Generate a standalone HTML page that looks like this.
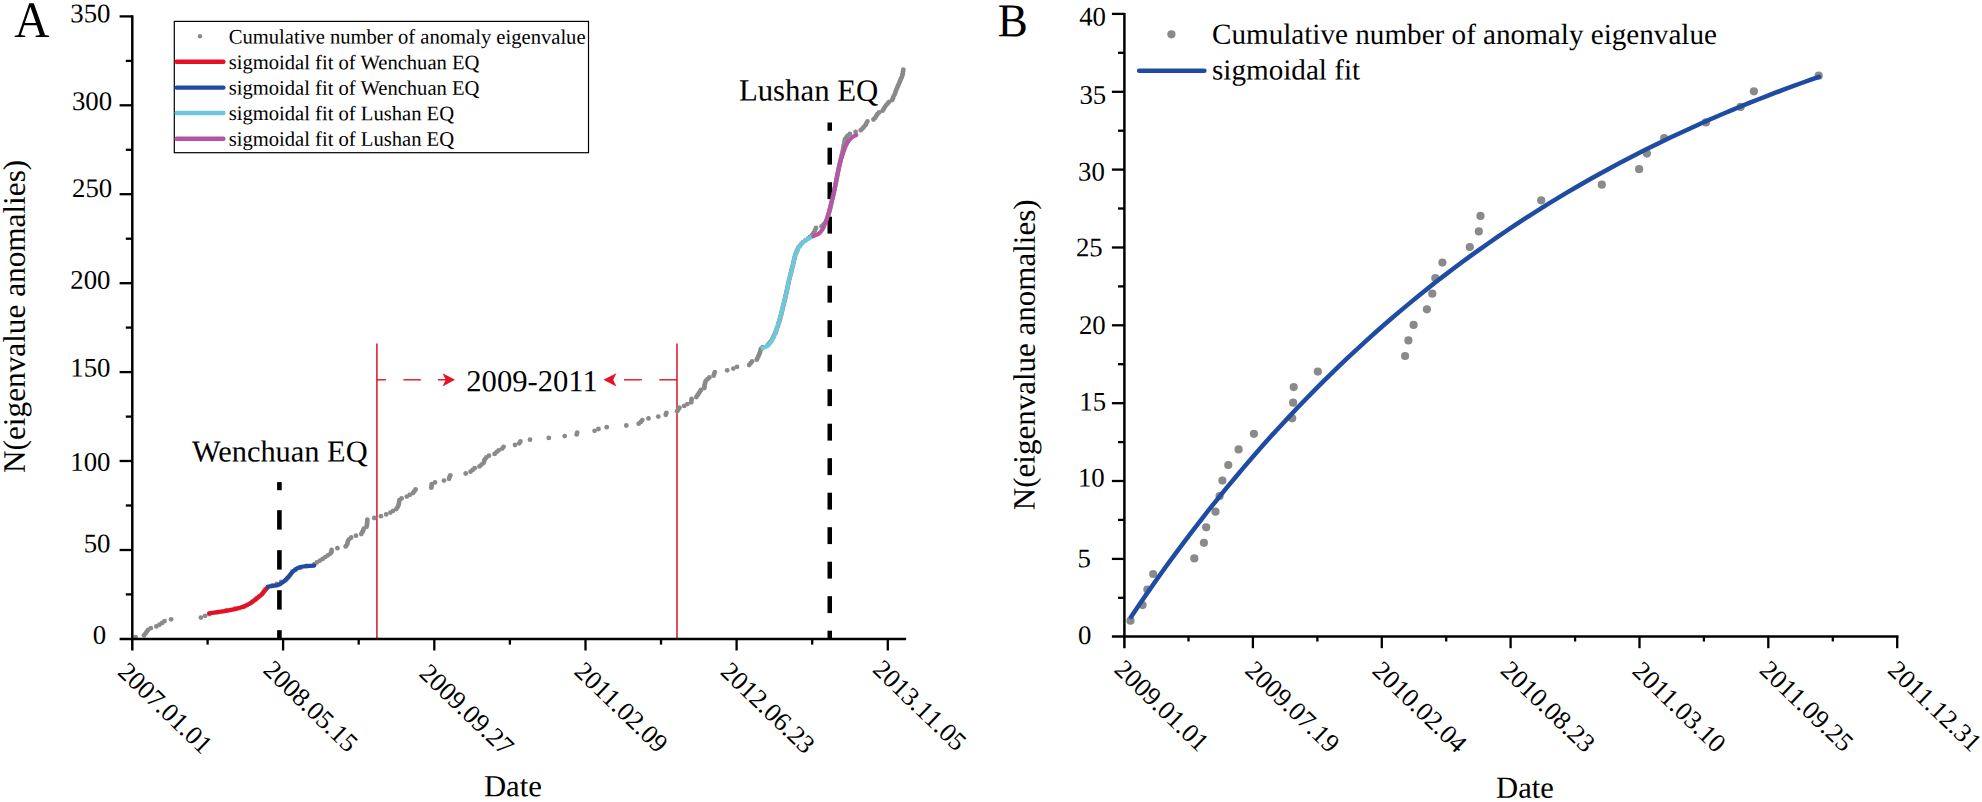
<!DOCTYPE html>
<html lang="en"><head><meta charset="utf-8"><title>Figure</title>
<style>html,body{margin:0;padding:0;background:#fff}svg{display:block}</style></head>
<body>
<svg width="1982" height="802" viewBox="0 0 1982 802" font-family="'Liberation Serif', serif" fill="#000">
<rect width="1982" height="802" fill="#fff"/>
<g id="panelA">
<g stroke="#de3041" stroke-width="1.7" fill="none">
<line x1="376.9" y1="343.5" x2="376.9" y2="638.9"/>
<line x1="677" y1="343.5" x2="677" y2="638.9"/>
</g>
<g stroke="#e60f24" stroke-width="1.4" fill="none">
<line x1="377" y1="379.8" x2="385.9" y2="379.8"/>
<line x1="403.4" y1="379.8" x2="420.8" y2="379.8"/>
<line x1="437.8" y1="379.8" x2="448" y2="379.8"/>
<line x1="624" y1="379.8" x2="641.8" y2="379.8"/>
<line x1="659.3" y1="379.8" x2="677" y2="379.8"/>
</g>
<path d="M455,379.8 L442.5,373.3 L445.8,379.8 L442.5,386.6 Z" fill="#e60f24"/>
<path d="M603.5,379.8 L616.4,373.3 L613.2,379.8 L616.4,386.6 Z" fill="#e60f24"/>
<g fill="#8a8a8a">
<circle cx="135.7" cy="637.1" r="2.4"/>
<circle cx="144.0" cy="635.3" r="2.4"/>
<circle cx="145.5" cy="633.6" r="2.4"/>
<circle cx="146.7" cy="631.8" r="2.4"/>
<circle cx="148.0" cy="630.0" r="2.4"/>
<circle cx="150.8" cy="628.2" r="2.4"/>
<circle cx="156.4" cy="626.4" r="2.4"/>
<circle cx="159.5" cy="624.7" r="2.4"/>
<circle cx="162.2" cy="622.9" r="2.4"/>
<circle cx="164.6" cy="621.1" r="2.4"/>
<circle cx="171.1" cy="619.3" r="2.4"/>
<circle cx="200.9" cy="617.6" r="2.4"/>
<circle cx="205.1" cy="615.8" r="2.4"/>
<circle cx="209.2" cy="614.0" r="2.4"/>
<circle cx="217.5" cy="612.2" r="2.4"/>
<circle cx="226.2" cy="610.4" r="2.4"/>
<circle cx="234.9" cy="608.7" r="2.4"/>
<circle cx="243.7" cy="606.9" r="2.4"/>
<circle cx="247.1" cy="605.1" r="2.4"/>
<circle cx="250.6" cy="603.3" r="2.4"/>
<circle cx="252.6" cy="601.5" r="2.4"/>
<circle cx="254.7" cy="599.8" r="2.4"/>
<circle cx="256.7" cy="598.0" r="2.4"/>
<circle cx="259.4" cy="596.2" r="2.4"/>
<circle cx="262.0" cy="594.4" r="2.4"/>
<circle cx="263.2" cy="592.7" r="2.4"/>
<circle cx="264.3" cy="590.9" r="2.4"/>
<circle cx="265.5" cy="589.1" r="2.4"/>
<circle cx="267.7" cy="587.3" r="2.4"/>
<circle cx="272.5" cy="585.5" r="2.4"/>
<circle cx="276.8" cy="583.8" r="2.4"/>
<circle cx="281.2" cy="582.0" r="2.4"/>
<circle cx="285.6" cy="580.2" r="2.4"/>
<circle cx="287.4" cy="578.4" r="2.4"/>
<circle cx="289.1" cy="576.6" r="2.4"/>
<circle cx="290.2" cy="574.9" r="2.4"/>
<circle cx="291.4" cy="573.1" r="2.4"/>
<circle cx="292.5" cy="571.3" r="2.4"/>
<circle cx="296.0" cy="569.5" r="2.4"/>
<circle cx="300.4" cy="567.8" r="2.4"/>
<circle cx="306.5" cy="566.0" r="2.4"/>
<circle cx="314.4" cy="564.2" r="2.4"/>
<circle cx="316.8" cy="562.4" r="2.4"/>
<circle cx="319.9" cy="560.6" r="2.4"/>
<circle cx="322.6" cy="558.9" r="2.4"/>
<circle cx="325.2" cy="557.1" r="2.4"/>
<circle cx="327.9" cy="555.3" r="2.4"/>
<circle cx="330.5" cy="553.5" r="2.4"/>
<circle cx="331.6" cy="551.7" r="2.4"/>
<circle cx="331.6" cy="550.0" r="2.4"/>
<circle cx="337.4" cy="548.2" r="2.4"/>
<circle cx="345.7" cy="546.4" r="2.4"/>
<circle cx="347.0" cy="544.6" r="2.4"/>
<circle cx="347.5" cy="542.9" r="2.4"/>
<circle cx="348.0" cy="541.1" r="2.4"/>
<circle cx="349.1" cy="539.3" r="2.4"/>
<circle cx="351.2" cy="537.5" r="2.4"/>
<circle cx="356.0" cy="535.7" r="2.4"/>
<circle cx="361.3" cy="534.0" r="2.4"/>
<circle cx="362.3" cy="532.2" r="2.4"/>
<circle cx="363.1" cy="530.4" r="2.4"/>
<circle cx="363.9" cy="528.6" r="2.4"/>
<circle cx="366.6" cy="526.8" r="2.4"/>
<circle cx="366.9" cy="525.1" r="2.4"/>
<circle cx="367.1" cy="523.3" r="2.4"/>
<circle cx="367.2" cy="521.5" r="2.4"/>
<circle cx="367.3" cy="519.7" r="2.4"/>
<circle cx="374.3" cy="518.0" r="2.4"/>
<circle cx="380.9" cy="516.2" r="2.4"/>
<circle cx="386.2" cy="514.4" r="2.4"/>
<circle cx="390.4" cy="512.6" r="2.4"/>
<circle cx="393.1" cy="510.8" r="2.4"/>
<circle cx="396.3" cy="509.1" r="2.4"/>
<circle cx="397.4" cy="507.3" r="2.4"/>
<circle cx="398.4" cy="505.5" r="2.4"/>
<circle cx="398.9" cy="503.7" r="2.4"/>
<circle cx="399.1" cy="501.9" r="2.4"/>
<circle cx="399.4" cy="500.2" r="2.4"/>
<circle cx="401.6" cy="498.4" r="2.4"/>
<circle cx="406.8" cy="496.6" r="2.4"/>
<circle cx="409.8" cy="494.8" r="2.4"/>
<circle cx="413.0" cy="493.1" r="2.4"/>
<circle cx="414.3" cy="491.3" r="2.4"/>
<circle cx="415.6" cy="489.5" r="2.4"/>
<circle cx="431.3" cy="487.7" r="2.4"/>
<circle cx="431.6" cy="485.9" r="2.4"/>
<circle cx="431.8" cy="484.2" r="2.4"/>
<circle cx="435.0" cy="482.4" r="2.4"/>
<circle cx="444.0" cy="480.6" r="2.4"/>
<circle cx="449.0" cy="478.8" r="2.4"/>
<circle cx="449.6" cy="477.0" r="2.4"/>
<circle cx="450.3" cy="475.3" r="2.4"/>
<circle cx="465.7" cy="473.5" r="2.4"/>
<circle cx="470.5" cy="471.7" r="2.4"/>
<circle cx="472.6" cy="469.9" r="2.4"/>
<circle cx="474.7" cy="468.2" r="2.4"/>
<circle cx="479.5" cy="466.4" r="2.4"/>
<circle cx="481.6" cy="464.6" r="2.4"/>
<circle cx="483.7" cy="462.8" r="2.4"/>
<circle cx="484.2" cy="461.0" r="2.4"/>
<circle cx="484.8" cy="459.3" r="2.4"/>
<circle cx="486.4" cy="457.5" r="2.4"/>
<circle cx="489.0" cy="455.7" r="2.4"/>
<circle cx="494.6" cy="453.9" r="2.4"/>
<circle cx="496.6" cy="452.1" r="2.4"/>
<circle cx="498.6" cy="450.4" r="2.4"/>
<circle cx="502.3" cy="448.6" r="2.4"/>
<circle cx="503.6" cy="446.8" r="2.4"/>
<circle cx="515.0" cy="445.0" r="2.4"/>
<circle cx="519.2" cy="443.3" r="2.4"/>
<circle cx="520.4" cy="441.5" r="2.4"/>
<circle cx="530.0" cy="439.7" r="2.4"/>
<circle cx="548.8" cy="437.9" r="2.4"/>
<circle cx="564.7" cy="436.1" r="2.4"/>
<circle cx="576.7" cy="434.4" r="2.4"/>
<circle cx="577.2" cy="432.6" r="2.4"/>
<circle cx="594.6" cy="430.8" r="2.4"/>
<circle cx="598.5" cy="429.0" r="2.4"/>
<circle cx="606.7" cy="427.2" r="2.4"/>
<circle cx="626.3" cy="425.5" r="2.4"/>
<circle cx="638.7" cy="423.7" r="2.4"/>
<circle cx="640.9" cy="421.9" r="2.4"/>
<circle cx="642.3" cy="420.1" r="2.4"/>
<circle cx="648.5" cy="418.4" r="2.4"/>
<circle cx="658.3" cy="416.6" r="2.4"/>
<circle cx="665.7" cy="414.8" r="2.4"/>
<circle cx="666.4" cy="413.0" r="2.4"/>
<circle cx="677.1" cy="411.2" r="2.4"/>
<circle cx="678.3" cy="409.5" r="2.4"/>
<circle cx="679.5" cy="407.7" r="2.4"/>
<circle cx="684.2" cy="405.9" r="2.4"/>
<circle cx="687.4" cy="404.1" r="2.4"/>
<circle cx="691.2" cy="402.3" r="2.4"/>
<circle cx="691.4" cy="400.6" r="2.4"/>
<circle cx="691.6" cy="398.8" r="2.4"/>
<circle cx="696.3" cy="397.0" r="2.4"/>
<circle cx="697.5" cy="395.2" r="2.4"/>
<circle cx="698.7" cy="393.5" r="2.4"/>
<circle cx="699.9" cy="391.7" r="2.4"/>
<circle cx="701.0" cy="389.9" r="2.4"/>
<circle cx="704.3" cy="388.1" r="2.4"/>
<circle cx="704.5" cy="386.3" r="2.4"/>
<circle cx="704.7" cy="384.6" r="2.4"/>
<circle cx="705.2" cy="382.8" r="2.4"/>
<circle cx="705.7" cy="381.0" r="2.4"/>
<circle cx="707.5" cy="379.2" r="2.4"/>
<circle cx="709.4" cy="377.4" r="2.4"/>
<circle cx="713.6" cy="375.7" r="2.4"/>
<circle cx="714.2" cy="373.9" r="2.4"/>
<circle cx="714.8" cy="372.1" r="2.4"/>
<circle cx="727.2" cy="370.3" r="2.4"/>
<circle cx="733.3" cy="368.6" r="2.4"/>
<circle cx="737.0" cy="366.8" r="2.4"/>
<circle cx="749.2" cy="365.0" r="2.4"/>
<circle cx="750.6" cy="363.2" r="2.4"/>
<circle cx="752.0" cy="361.4" r="2.4"/>
<circle cx="756.7" cy="359.7" r="2.4"/>
<circle cx="757.6" cy="357.9" r="2.4"/>
<circle cx="758.5" cy="356.1" r="2.4"/>
<circle cx="759.2" cy="354.3" r="2.4"/>
<circle cx="759.9" cy="352.5" r="2.4"/>
<circle cx="760.4" cy="350.8" r="2.4"/>
<circle cx="760.9" cy="349.0" r="2.4"/>
<circle cx="762.7" cy="347.2" r="2.4"/>
<circle cx="767.5" cy="345.4" r="2.4"/>
<circle cx="768.9" cy="343.7" r="2.4"/>
<circle cx="770.4" cy="341.9" r="2.4"/>
<circle cx="771.8" cy="340.1" r="2.4"/>
<circle cx="772.7" cy="338.3" r="2.4"/>
<circle cx="773.5" cy="336.5" r="2.4"/>
<circle cx="774.4" cy="334.8" r="2.4"/>
<circle cx="775.3" cy="333.0" r="2.4"/>
<circle cx="775.9" cy="331.2" r="2.4"/>
<circle cx="776.6" cy="329.4" r="2.4"/>
<circle cx="777.2" cy="327.6" r="2.4"/>
<circle cx="777.9" cy="325.9" r="2.4"/>
<circle cx="778.4" cy="324.1" r="2.4"/>
<circle cx="778.9" cy="322.3" r="2.4"/>
<circle cx="779.5" cy="320.5" r="2.4"/>
<circle cx="780.0" cy="318.8" r="2.4"/>
<circle cx="780.5" cy="317.0" r="2.4"/>
<circle cx="780.9" cy="315.2" r="2.4"/>
<circle cx="781.4" cy="313.4" r="2.4"/>
<circle cx="781.8" cy="311.6" r="2.4"/>
<circle cx="782.3" cy="309.9" r="2.4"/>
<circle cx="782.7" cy="308.1" r="2.4"/>
<circle cx="783.1" cy="306.3" r="2.4"/>
<circle cx="783.6" cy="304.5" r="2.4"/>
<circle cx="784.0" cy="302.7" r="2.4"/>
<circle cx="784.5" cy="301.0" r="2.4"/>
<circle cx="784.9" cy="299.2" r="2.4"/>
<circle cx="785.3" cy="297.4" r="2.4"/>
<circle cx="785.7" cy="295.6" r="2.4"/>
<circle cx="786.1" cy="293.9" r="2.4"/>
<circle cx="786.5" cy="292.1" r="2.4"/>
<circle cx="786.9" cy="290.3" r="2.4"/>
<circle cx="787.3" cy="288.5" r="2.4"/>
<circle cx="787.7" cy="286.7" r="2.4"/>
<circle cx="788.0" cy="285.0" r="2.4"/>
<circle cx="788.4" cy="283.2" r="2.4"/>
<circle cx="788.8" cy="281.4" r="2.4"/>
<circle cx="789.2" cy="279.6" r="2.4"/>
<circle cx="789.7" cy="277.8" r="2.4"/>
<circle cx="790.1" cy="276.1" r="2.4"/>
<circle cx="790.6" cy="274.3" r="2.4"/>
<circle cx="791.0" cy="272.5" r="2.4"/>
<circle cx="791.4" cy="270.7" r="2.4"/>
<circle cx="791.9" cy="269.0" r="2.4"/>
<circle cx="792.3" cy="267.2" r="2.4"/>
<circle cx="792.8" cy="265.4" r="2.4"/>
<circle cx="793.2" cy="263.6" r="2.4"/>
<circle cx="793.6" cy="261.8" r="2.4"/>
<circle cx="794.0" cy="260.1" r="2.4"/>
<circle cx="794.5" cy="258.3" r="2.4"/>
<circle cx="794.9" cy="256.5" r="2.4"/>
<circle cx="795.3" cy="254.7" r="2.4"/>
<circle cx="796.1" cy="252.9" r="2.4"/>
<circle cx="796.8" cy="251.2" r="2.4"/>
<circle cx="797.6" cy="249.4" r="2.4"/>
<circle cx="798.4" cy="247.6" r="2.4"/>
<circle cx="799.9" cy="245.8" r="2.4"/>
<circle cx="801.3" cy="244.1" r="2.4"/>
<circle cx="802.8" cy="242.3" r="2.4"/>
<circle cx="805.4" cy="240.5" r="2.4"/>
<circle cx="808.0" cy="238.7" r="2.4"/>
<circle cx="810.0" cy="236.9" r="2.4"/>
<circle cx="812.0" cy="235.2" r="2.4"/>
<circle cx="813.2" cy="233.4" r="2.4"/>
<circle cx="814.5" cy="231.6" r="2.4"/>
<circle cx="815.2" cy="229.8" r="2.4"/>
<circle cx="816.0" cy="228.0" r="2.4"/>
<circle cx="821.5" cy="226.3" r="2.4"/>
<circle cx="823.5" cy="224.5" r="2.4"/>
<circle cx="825.4" cy="222.7" r="2.4"/>
<circle cx="826.5" cy="220.9" r="2.4"/>
<circle cx="827.1" cy="219.2" r="2.4"/>
<circle cx="827.6" cy="217.4" r="2.4"/>
<circle cx="828.2" cy="215.6" r="2.4"/>
<circle cx="828.7" cy="213.8" r="2.4"/>
<circle cx="829.3" cy="212.0" r="2.4"/>
<circle cx="829.7" cy="210.3" r="2.4"/>
<circle cx="830.1" cy="208.5" r="2.4"/>
<circle cx="830.6" cy="206.7" r="2.4"/>
<circle cx="831.0" cy="204.9" r="2.4"/>
<circle cx="831.4" cy="203.1" r="2.4"/>
<circle cx="831.8" cy="201.4" r="2.4"/>
<circle cx="832.2" cy="199.6" r="2.4"/>
<circle cx="832.7" cy="197.8" r="2.4"/>
<circle cx="833.1" cy="196.0" r="2.4"/>
<circle cx="833.5" cy="194.2" r="2.4"/>
<circle cx="833.9" cy="192.5" r="2.4"/>
<circle cx="834.3" cy="190.7" r="2.4"/>
<circle cx="834.6" cy="188.9" r="2.4"/>
<circle cx="835.0" cy="187.1" r="2.4"/>
<circle cx="835.4" cy="185.4" r="2.4"/>
<circle cx="835.7" cy="183.6" r="2.4"/>
<circle cx="836.1" cy="181.8" r="2.4"/>
<circle cx="836.4" cy="180.0" r="2.4"/>
<circle cx="836.8" cy="178.2" r="2.4"/>
<circle cx="837.1" cy="176.5" r="2.4"/>
<circle cx="837.5" cy="174.7" r="2.4"/>
<circle cx="837.8" cy="172.9" r="2.4"/>
<circle cx="838.2" cy="171.1" r="2.4"/>
<circle cx="838.5" cy="169.3" r="2.4"/>
<circle cx="838.9" cy="167.6" r="2.4"/>
<circle cx="839.3" cy="165.8" r="2.4"/>
<circle cx="839.7" cy="164.0" r="2.4"/>
<circle cx="840.2" cy="162.2" r="2.4"/>
<circle cx="840.6" cy="160.5" r="2.4"/>
<circle cx="841.0" cy="158.7" r="2.4"/>
<circle cx="841.4" cy="156.9" r="2.4"/>
<circle cx="841.8" cy="155.1" r="2.4"/>
<circle cx="842.2" cy="153.3" r="2.4"/>
<circle cx="842.6" cy="151.6" r="2.4"/>
<circle cx="843.0" cy="149.8" r="2.4"/>
<circle cx="843.3" cy="148.0" r="2.4"/>
<circle cx="843.6" cy="146.2" r="2.4"/>
<circle cx="844.0" cy="144.4" r="2.4"/>
<circle cx="844.4" cy="142.7" r="2.4"/>
<circle cx="844.7" cy="140.9" r="2.4"/>
<circle cx="845.1" cy="139.1" r="2.4"/>
<circle cx="846.4" cy="137.3" r="2.4"/>
<circle cx="847.7" cy="135.6" r="2.4"/>
<circle cx="849.9" cy="133.8" r="2.4"/>
<circle cx="855.6" cy="132.0" r="2.4"/>
<circle cx="860.8" cy="130.2" r="2.4"/>
<circle cx="862.6" cy="128.4" r="2.4"/>
<circle cx="864.1" cy="126.7" r="2.4"/>
<circle cx="865.6" cy="124.9" r="2.4"/>
<circle cx="866.5" cy="123.1" r="2.4"/>
<circle cx="867.4" cy="121.3" r="2.4"/>
<circle cx="873.5" cy="119.5" r="2.4"/>
<circle cx="875.2" cy="117.8" r="2.4"/>
<circle cx="876.3" cy="116.0" r="2.4"/>
<circle cx="877.4" cy="114.2" r="2.4"/>
<circle cx="879.1" cy="112.4" r="2.4"/>
<circle cx="882.6" cy="110.7" r="2.4"/>
<circle cx="883.7" cy="108.9" r="2.4"/>
<circle cx="884.8" cy="107.1" r="2.4"/>
<circle cx="886.1" cy="105.3" r="2.4"/>
<circle cx="887.7" cy="103.5" r="2.4"/>
<circle cx="889.2" cy="101.8" r="2.4"/>
<circle cx="892.2" cy="100.0" r="2.4"/>
<circle cx="892.9" cy="98.2" r="2.4"/>
<circle cx="893.5" cy="96.4" r="2.4"/>
<circle cx="894.6" cy="94.6" r="2.4"/>
<circle cx="895.2" cy="92.9" r="2.4"/>
<circle cx="895.8" cy="91.1" r="2.4"/>
<circle cx="896.5" cy="89.3" r="2.4"/>
<circle cx="897.3" cy="87.5" r="2.4"/>
<circle cx="898.0" cy="85.8" r="2.4"/>
<circle cx="898.8" cy="84.0" r="2.4"/>
<circle cx="899.5" cy="82.2" r="2.4"/>
<circle cx="900.3" cy="80.4" r="2.4"/>
<circle cx="901.0" cy="78.6" r="2.4"/>
<circle cx="901.8" cy="76.9" r="2.4"/>
<circle cx="902.5" cy="75.1" r="2.4"/>
<circle cx="902.8" cy="73.3" r="2.4"/>
<circle cx="903.0" cy="71.5" r="2.4"/>
<circle cx="903.3" cy="69.7" r="2.4"/>
</g>
<g fill="#000">
<rect x="277.1" y="482.1" width="4.6" height="8.1"/>
<rect x="277.1" y="510.2" width="4.6" height="19.4"/>
<rect x="277.1" y="550.2" width="4.6" height="19.4"/>
<rect x="277.1" y="590.2" width="4.6" height="19.4"/>
<rect x="277.1" y="630.2" width="4.6" height="8.7"/>
<rect x="827.5" y="122.5" width="4.5" height="8.3"/>
<rect x="827.5" y="147.7" width="4.5" height="16.9"/>
<rect x="827.5" y="182.2" width="4.5" height="16.9"/>
<rect x="827.5" y="216.7" width="4.5" height="16.9"/>
<rect x="827.5" y="251.2" width="4.5" height="16.9"/>
<rect x="827.5" y="285.7" width="4.5" height="16.9"/>
<rect x="827.5" y="320.2" width="4.5" height="16.9"/>
<rect x="827.5" y="354.7" width="4.5" height="16.9"/>
<rect x="827.5" y="389.2" width="4.5" height="16.9"/>
<rect x="827.5" y="423.7" width="4.5" height="16.9"/>
<rect x="827.5" y="458.2" width="4.5" height="16.9"/>
<rect x="827.5" y="492.7" width="4.5" height="16.9"/>
<rect x="827.5" y="527.2" width="4.5" height="16.9"/>
<rect x="827.5" y="561.7" width="4.5" height="16.9"/>
<rect x="827.5" y="596.2" width="4.5" height="16.9"/>
<rect x="827.5" y="630.7" width="4.5" height="8.2"/>
</g>
<polyline points="209.2,613.3 217.5,612.2 226.2,610.9 234.9,609.1 239.5,607.9 243.7,606.5 247.3,604.9 250.6,603.0 253.7,600.9 256.7,598.7 259.4,596.4 262.0,593.9 265.5,589.9 267.7,587.3" fill="none" stroke="#e60f24" stroke-width="4.2" stroke-linecap="round" stroke-linejoin="round"/>
<polyline points="267.9,586.6 272.5,586.0 276.8,585.4 279.2,584.6 281.2,583.4 283.4,581.8 285.6,579.9 289.1,576.0 292.5,572.0 294.2,570.4 296.0,569.0 298.0,567.9 300.4,567.0 303.2,566.5 306.5,566.2 314.2,565.7" fill="none" stroke="#1f4ba3" stroke-width="4.2" stroke-linecap="round" stroke-linejoin="round"/>
<polyline points="762.7,348.0 765.2,347.1 767.5,345.8 769.8,343.6 771.8,340.6 773.6,337.3 775.3,333.6 777.9,324.9 780.5,316.2 782.7,307.5 784.9,298.7 786.9,290.0 788.8,281.1 791.0,272.4 793.2,263.6 795.3,254.9 796.7,251.1 798.4,247.9 800.4,245.1 802.8,242.7 805.3,240.6 808.0,238.8 813.0,236.2" fill="none" stroke="#6dc8dc" stroke-width="4.2" stroke-linecap="round" stroke-linejoin="round"/>
<polyline points="813.4,236.0 817.6,234.4 819.5,233.1 821.1,231.3 822.5,229.3 823.7,227.0 825.4,222.6 826.5,219.9 829.3,211.1 831.4,202.4 833.5,193.6 835.4,184.9 837.1,176.2 838.9,167.5 841.0,158.7 842.1,156.1 845.1,147.4 846.9,143.6 849.0,140.4 851.1,138.1 853.4,136.4 856.3,135.1" fill="none" stroke="#b455a6" stroke-width="4.2" stroke-linecap="round" stroke-linejoin="round"/>
<g stroke="#000" stroke-width="2.5" fill="none">
<line x1="132.3" y1="15.3" x2="132.3" y2="650.5"/>
<line x1="119.6" y1="638.9" x2="906.1" y2="638.9"/>
</g>
<g stroke="#000" stroke-width="2.3" fill="none">
<line x1="119.6" y1="550.0" x2="132.3" y2="550.0"/>
<line x1="119.6" y1="461.0" x2="132.3" y2="461.0"/>
<line x1="119.6" y1="372.1" x2="132.3" y2="372.1"/>
<line x1="119.6" y1="283.2" x2="132.3" y2="283.2"/>
<line x1="119.6" y1="194.2" x2="132.3" y2="194.2"/>
<line x1="119.6" y1="105.3" x2="132.3" y2="105.3"/>
<line x1="119.6" y1="16.4" x2="132.3" y2="16.4"/>
<line x1="125.8" y1="594.4" x2="132.3" y2="594.4"/>
<line x1="125.8" y1="505.5" x2="132.3" y2="505.5"/>
<line x1="125.8" y1="416.6" x2="132.3" y2="416.6"/>
<line x1="125.8" y1="327.6" x2="132.3" y2="327.6"/>
<line x1="125.8" y1="238.7" x2="132.3" y2="238.7"/>
<line x1="125.8" y1="149.8" x2="132.3" y2="149.8"/>
<line x1="125.8" y1="60.9" x2="132.3" y2="60.9"/>
<line x1="283.1" y1="638.9" x2="283.1" y2="650.5"/>
<line x1="434.3" y1="638.9" x2="434.3" y2="650.5"/>
<line x1="585.5" y1="638.9" x2="585.5" y2="650.5"/>
<line x1="736.6" y1="638.9" x2="736.6" y2="650.5"/>
<line x1="887.8" y1="638.9" x2="887.8" y2="650.5"/>
<line x1="207.6" y1="638.9" x2="207.6" y2="644.6"/>
<line x1="358.7" y1="638.9" x2="358.7" y2="644.6"/>
<line x1="509.9" y1="638.9" x2="509.9" y2="644.6"/>
<line x1="661.0" y1="638.9" x2="661.0" y2="644.6"/>
<line x1="812.2" y1="638.9" x2="812.2" y2="644.6"/>
</g>
<g font-size="26.8" text-anchor="end">
<text transform="translate(110.5,22.2) rotate(0.03)">350</text>
<text transform="translate(112.1,109.9) rotate(0.03)">300</text>
<text transform="translate(112.2,196.9) rotate(0.03)">250</text>
<text transform="translate(110.5,288.7) rotate(0.03)">200</text>
<text transform="translate(110.5,376.4) rotate(0.03)">150</text>
<text transform="translate(110.5,470.8) rotate(0.03)">100</text>
<text transform="translate(110.5,552.2) rotate(0.03)">50</text>
<text transform="translate(106.2,643.7) rotate(0.03)">0</text>
</g>
<g font-size="26.3">
<text transform="translate(116.6,673.4) rotate(43.8)">2007.01.01</text>
<text transform="translate(262.1,671.6) rotate(43.8)">2008.05.15</text>
<text transform="translate(418.0,675.0) rotate(43.8)">2009.09.27</text>
<text transform="translate(572.9,672.9) rotate(43.8)">2011.02.09</text>
<text transform="translate(719.2,673.3) rotate(43.8)">2012.06.23</text>
<text transform="translate(871.4,671.1) rotate(43.8)">2013.11.05</text>
</g>
<text transform="translate(483.9,796.3) rotate(0.03)" font-size="30.7">Date</text>
<text transform="translate(24.7,473) rotate(-89.97)" font-size="31.25">N(eigenvalue anomalies)</text>
<text transform="translate(14.3,37.1) rotate(0.03) scale(0.952,1)" font-size="51.2">A</text>
<text transform="translate(192,461.4) rotate(0.03)" font-size="30.4">Wenchuan EQ</text>
<text transform="translate(738.9,100.6) rotate(0.03)" font-size="30.8">Lushan EQ</text>
<text transform="translate(466.3,391.2) rotate(0.03)" font-size="30.6">2009-2011</text>
<rect x="174.3" y="21.4" width="414.2" height="131.3" fill="#fff" stroke="#000" stroke-width="1.2"/>
<circle cx="200" cy="36.2" r="2.2" fill="#8a8a8a"/>
<g font-size="20.6">
<text transform="translate(228.7,43.5) rotate(0.03)">Cumulative number of anomaly eigenvalue</text>
<text transform="translate(228.7,69.1) rotate(0.03)">sigmoidal fit of Wenchuan EQ</text>
<text transform="translate(228.7,94.6) rotate(0.03)">sigmoidal fit of Wenchuan EQ</text>
<text transform="translate(228.7,120.1) rotate(0.03)">sigmoidal fit of Lushan EQ</text>
<text transform="translate(228.7,145.7) rotate(0.03)">sigmoidal fit of Lushan EQ</text>
</g>
<line x1="176.7" y1="61.7" x2="223.4" y2="61.7" stroke="#e60f24" stroke-width="4.4" stroke-linecap="round"/>
<line x1="176.7" y1="87.6" x2="223.4" y2="87.6" stroke="#1f4ba3" stroke-width="4.4" stroke-linecap="round"/>
<line x1="176.7" y1="113.0" x2="223.4" y2="113.0" stroke="#6dc8dc" stroke-width="4.4" stroke-linecap="round"/>
<line x1="176.7" y1="138.8" x2="223.4" y2="138.8" stroke="#b455a6" stroke-width="4.4" stroke-linecap="round"/>
</g>
<g id="panelB">
<g fill="#8a8a8a">
<circle cx="1130.5" cy="620.7" r="4.1"/>
<circle cx="1142.6" cy="605.1" r="4.1"/>
<circle cx="1147.4" cy="589.5" r="4.1"/>
<circle cx="1153.2" cy="574.0" r="4.1"/>
<circle cx="1194.3" cy="558.4" r="4.1"/>
<circle cx="1203.9" cy="542.8" r="4.1"/>
<circle cx="1206.2" cy="527.3" r="4.1"/>
<circle cx="1215.5" cy="511.7" r="4.1"/>
<circle cx="1219.6" cy="496.1" r="4.1"/>
<circle cx="1222.4" cy="480.6" r="4.1"/>
<circle cx="1228.3" cy="465.0" r="4.1"/>
<circle cx="1238.6" cy="449.4" r="4.1"/>
<circle cx="1253.9" cy="433.8" r="4.1"/>
<circle cx="1292.2" cy="418.3" r="4.1"/>
<circle cx="1293.1" cy="402.7" r="4.1"/>
<circle cx="1293.7" cy="387.1" r="4.1"/>
<circle cx="1317.8" cy="371.6" r="4.1"/>
<circle cx="1405.1" cy="356.0" r="4.1"/>
<circle cx="1408.4" cy="340.4" r="4.1"/>
<circle cx="1413.6" cy="324.9" r="4.1"/>
<circle cx="1426.9" cy="309.3" r="4.1"/>
<circle cx="1432.3" cy="293.7" r="4.1"/>
<circle cx="1435.3" cy="278.1" r="4.1"/>
<circle cx="1442.4" cy="262.6" r="4.1"/>
<circle cx="1469.8" cy="247.0" r="4.1"/>
<circle cx="1478.8" cy="231.4" r="4.1"/>
<circle cx="1480.5" cy="215.9" r="4.1"/>
<circle cx="1541.2" cy="200.3" r="4.1"/>
<circle cx="1601.8" cy="184.7" r="4.1"/>
<circle cx="1639.1" cy="169.2" r="4.1"/>
<circle cx="1646.9" cy="153.6" r="4.1"/>
<circle cx="1664.2" cy="138.0" r="4.1"/>
<circle cx="1706.0" cy="122.4" r="4.1"/>
<circle cx="1740.6" cy="106.9" r="4.1"/>
<circle cx="1753.9" cy="91.3" r="4.1"/>
<circle cx="1818.7" cy="75.7" r="4.1"/>
</g>
<polyline points="1131.0,616.9 1139.7,604.0 1148.4,591.4 1157.1,579.0 1165.8,566.8 1174.5,554.9 1183.3,543.2 1192.0,531.6 1200.7,520.3 1209.4,509.2 1218.1,498.4 1226.8,487.7 1235.5,477.2 1244.2,466.9 1252.9,456.7 1261.6,446.8 1270.3,437.0 1279.1,427.5 1287.8,418.1 1296.5,408.8 1305.2,399.8 1313.9,390.9 1322.6,382.2 1331.3,373.6 1340.0,365.2 1348.7,356.9 1357.4,348.8 1366.1,340.8 1374.8,333.0 1383.6,325.3 1392.3,317.8 1401.0,310.4 1409.7,303.1 1418.4,296.0 1427.1,289.0 1435.8,282.1 1444.5,275.4 1453.2,268.8 1461.9,262.3 1470.6,255.9 1479.4,249.6 1488.1,243.5 1496.8,237.4 1505.5,231.5 1514.2,225.7 1522.9,219.9 1531.6,214.3 1540.3,208.8 1549.0,203.4 1557.7,198.1 1566.4,192.9 1575.2,187.8 1583.9,182.8 1592.6,177.8 1601.3,173.0 1610.0,168.2 1618.7,163.6 1627.4,159.0 1636.1,154.5 1644.8,150.1 1653.5,145.7 1662.2,141.5 1670.9,137.3 1679.7,133.2 1688.4,129.2 1697.1,125.2 1705.8,121.3 1714.5,117.5 1723.2,113.8 1731.9,110.1 1740.6,106.5 1749.3,102.9 1758.0,99.5 1766.7,96.1 1775.5,92.7 1784.2,89.4 1792.9,86.2 1801.6,83.0 1810.3,79.9 1819.0,76.9" fill="none" stroke="#1f4ba3" stroke-width="4.5" stroke-linecap="round" stroke-linejoin="round"/>
<g stroke="#000" stroke-width="2.5" fill="none">
<line x1="1124.4" y1="12.9" x2="1124.4" y2="648.2"/>
<line x1="1111.9" y1="636.4000000000001" x2="1898.5" y2="636.4000000000001"/>
</g>
<g stroke="#000" stroke-width="2.3" fill="none">
<line x1="1111.9" y1="558.9" x2="1124.4" y2="558.9"/>
<line x1="1111.9" y1="481.0" x2="1124.4" y2="481.0"/>
<line x1="1111.9" y1="403.2" x2="1124.4" y2="403.2"/>
<line x1="1111.9" y1="325.3" x2="1124.4" y2="325.3"/>
<line x1="1111.9" y1="247.5" x2="1124.4" y2="247.5"/>
<line x1="1111.9" y1="169.6" x2="1124.4" y2="169.6"/>
<line x1="1111.9" y1="91.8" x2="1124.4" y2="91.8"/>
<line x1="1111.9" y1="13.9" x2="1124.4" y2="13.9"/>
<line x1="1118" y1="597.8" x2="1124.4" y2="597.8"/>
<line x1="1118" y1="519.9" x2="1124.4" y2="519.9"/>
<line x1="1118" y1="442.1" x2="1124.4" y2="442.1"/>
<line x1="1118" y1="364.2" x2="1124.4" y2="364.2"/>
<line x1="1118" y1="286.4" x2="1124.4" y2="286.4"/>
<line x1="1118" y1="208.5" x2="1124.4" y2="208.5"/>
<line x1="1118" y1="130.7" x2="1124.4" y2="130.7"/>
<line x1="1118" y1="52.8" x2="1124.4" y2="52.8"/>
<line x1="1252.9" y1="636.7" x2="1252.9" y2="648.2"/>
<line x1="1381.8" y1="636.7" x2="1381.8" y2="648.2"/>
<line x1="1510.6" y1="636.7" x2="1510.6" y2="648.2"/>
<line x1="1639.5" y1="636.7" x2="1639.5" y2="648.2"/>
<line x1="1768.3" y1="636.7" x2="1768.3" y2="648.2"/>
<line x1="1897.2" y1="636.7" x2="1897.2" y2="648.2"/>
<line x1="1188.5" y1="636.7" x2="1188.5" y2="641.5"/>
<line x1="1317.4" y1="636.7" x2="1317.4" y2="641.5"/>
<line x1="1446.2" y1="636.7" x2="1446.2" y2="641.5"/>
<line x1="1575.1" y1="636.7" x2="1575.1" y2="641.5"/>
<line x1="1703.9" y1="636.7" x2="1703.9" y2="641.5"/>
<line x1="1832.8" y1="636.7" x2="1832.8" y2="641.5"/>
</g>
<g font-size="26.8">
<text transform="translate(1077.9,644.0) rotate(0.03)">0</text>
<text transform="translate(1077.6,567.2) rotate(0.03)">5</text>
<text transform="translate(1077.9,486.5) rotate(0.03)">10</text>
<text transform="translate(1079.3,410.5) rotate(0.03)">15</text>
<text transform="translate(1078.9,334.1) rotate(0.03)">20</text>
<text transform="translate(1075.9,256.2) rotate(0.03)">25</text>
<text transform="translate(1078.0,180.5) rotate(0.03)">30</text>
<text transform="translate(1079.4,103.7) rotate(0.03)">35</text>
<text transform="translate(1079.2,25.6) rotate(0.03)">40</text>
</g>
<g font-size="26.3">
<text transform="translate(1113.1,671.0) rotate(43.8)">2009.01.01</text>
<text transform="translate(1243.8,672.1) rotate(43.8)">2009.07.19</text>
<text transform="translate(1371.0,672.2) rotate(43.8)">2010.02.04</text>
<text transform="translate(1499.3,672.0) rotate(43.8)">2010.08.23</text>
<text transform="translate(1630.9,672.6) rotate(43.8)">2011.03.10</text>
<text transform="translate(1758.3,671.8) rotate(43.8)">2011.09.25</text>
<text transform="translate(1886.5,671.8) rotate(43.8)">2011.12.31</text>
</g>
<text transform="translate(1496.1,797.8) rotate(0.03)" font-size="30.6">Date</text>
<text transform="translate(1034.6,510.2) rotate(-89.97)" font-size="31">N(eigenvalue anomalies)</text>
<text transform="translate(997.8,36.3) rotate(0.03) scale(0.961,1)" font-size="46.9">B</text>
<circle cx="1171.4" cy="34.3" r="4.1" fill="#8a8a8a"/>
<line x1="1139.1" y1="70.8" x2="1204.4" y2="70.8" stroke="#1f4ba3" stroke-width="4.5" stroke-linecap="round"/>
<g font-size="29.15">
<text transform="translate(1212,43.8) rotate(0.03)">Cumulative number of anomaly eigenvalue</text>
<text transform="translate(1212,79.5) rotate(0.03)">sigmoidal fit</text>
</g>
</g>
</svg>
</body></html>
